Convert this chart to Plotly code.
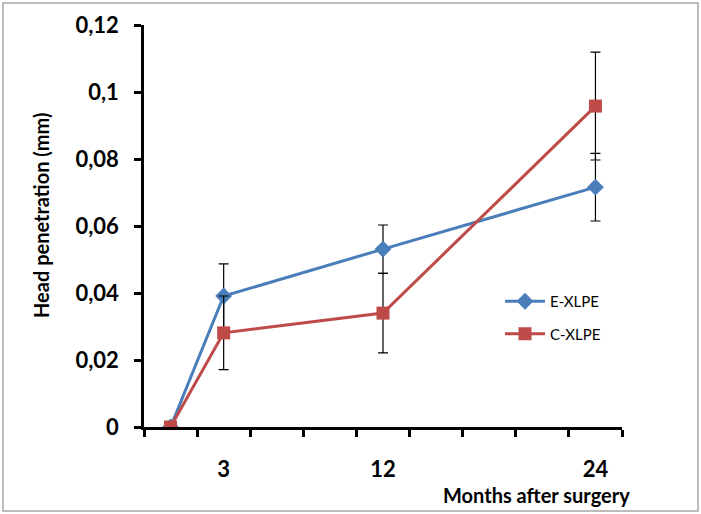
import plotly.graph_objects as go

months = [0, 3, 12, 24]
e_xlpe = [0.0, 0.0391, 0.0531, 0.0716]
e_err = [0.0, 0.0096, 0.0072, 0.0101]
c_xlpe = [0.0, 0.0281, 0.0340, 0.0958]
c_err = [0.0, 0.0110, 0.0119, 0.0161]

x_labels = ["3", "12", "24"]
x_label_vals = [3, 12, 24]
y_vals = [0, 0.02, 0.04, 0.06, 0.08, 0.1, 0.12]
y_text = ["0", "0,02", "0,04", "0,06", "0,08", "0,1", "0,12"]

FONT = "Lato"
W, H = 701, 514
L, R, T, B = 144, 79, 25, 87
pw, ph = W - L - R, H - T - B

fig = go.Figure()
fig.add_trace(go.Scatter(
    x=months, y=e_xlpe, name="E-XLPE", mode="lines+markers", legendgroup="e",
    line=dict(color="#4A7EBB", width=3),
    marker=dict(symbol="diamond", size=13, color="#4A7EBB"),
    error_y=dict(type="data", array=e_err, color="black", thickness=1.2, width=5),
))
fig.add_trace(go.Scatter(
    x=months, y=c_xlpe, name="C-XLPE", mode="lines+markers", legendgroup="c",
    line=dict(color="#BE4B48", width=3),
    marker=dict(symbol="square", size=13, color="#BE4B48"),
    error_y=dict(type="data", array=c_err, color="black", thickness=1.2, width=5),
))

fig.update_layout(
    width=W, height=H,
    margin=dict(l=L, r=R, t=T, b=B),
    paper_bgcolor="white", plot_bgcolor="white",
    font=dict(family=FONT, color="black"),
    showlegend=True,
    legend=dict(x=(500 - L) / pw, y=1 - (285 - T) / ph, xanchor="left", yanchor="top",
                font=dict(size=15, family=FONT), bgcolor="rgba(0,0,0,0)",
                traceorder="grouped", tracegroupgap=10, itemwidth=40),
    xaxis=dict(
        range=[-1.5, 25.5], showgrid=False, zeroline=False,
        showline=True, linecolor="black", linewidth=2.5,
        tickvals=x_label_vals, ticktext=x_labels, ticks="",
        ticklabelstandoff=21,
        tickfont=dict(size=22, family=FONT, weight="bold"),
        minor=dict(tickmode="linear", tick0=-1.5, dtick=3, ticks="outside",
                   ticklen=7, tickwidth=2.5, tickcolor="black", showgrid=False),
    ),
    yaxis=dict(
        range=[0, 0.12], showgrid=False, zeroline=False,
        showline=True, linecolor="black", linewidth=2.5,
        tickvals=y_vals, ticktext=y_text, ticks="outside",
        ticklen=7, tickwidth=2.5, tickcolor="black",
        ticklabelstandoff=11,
        tickfont=dict(size=22, family=FONT, weight="bold"),
    ),
    annotations=[
        dict(text="Months after surgery", xref="paper", yref="paper",
             x=(632 - L) / pw, y=-(495 - 427) / ph, xanchor="right", yanchor="middle",
             showarrow=False, font=dict(size=20, family=FONT, weight="bold")),
        dict(text="Head penetration (mm)", xref="paper", yref="paper",
             x=(41 - L) / pw, y=1 - (216 - T) / ph, xanchor="center", yanchor="middle",
             textangle=-90, showarrow=False, font=dict(size=20, family=FONT, weight="bold")),
    ],
    shapes=[
        dict(type="rect", xref="paper", yref="paper",
             x0=(3 - L) / pw, x1=(698 - L) / pw,
             y0=-(511 - T - ph) / ph, y1=1 + (T - 3) / ph,
             line=dict(color="#A6A6A6", width=1.5), layer="below"),
    ],
)

fig.write_html("out.html")
